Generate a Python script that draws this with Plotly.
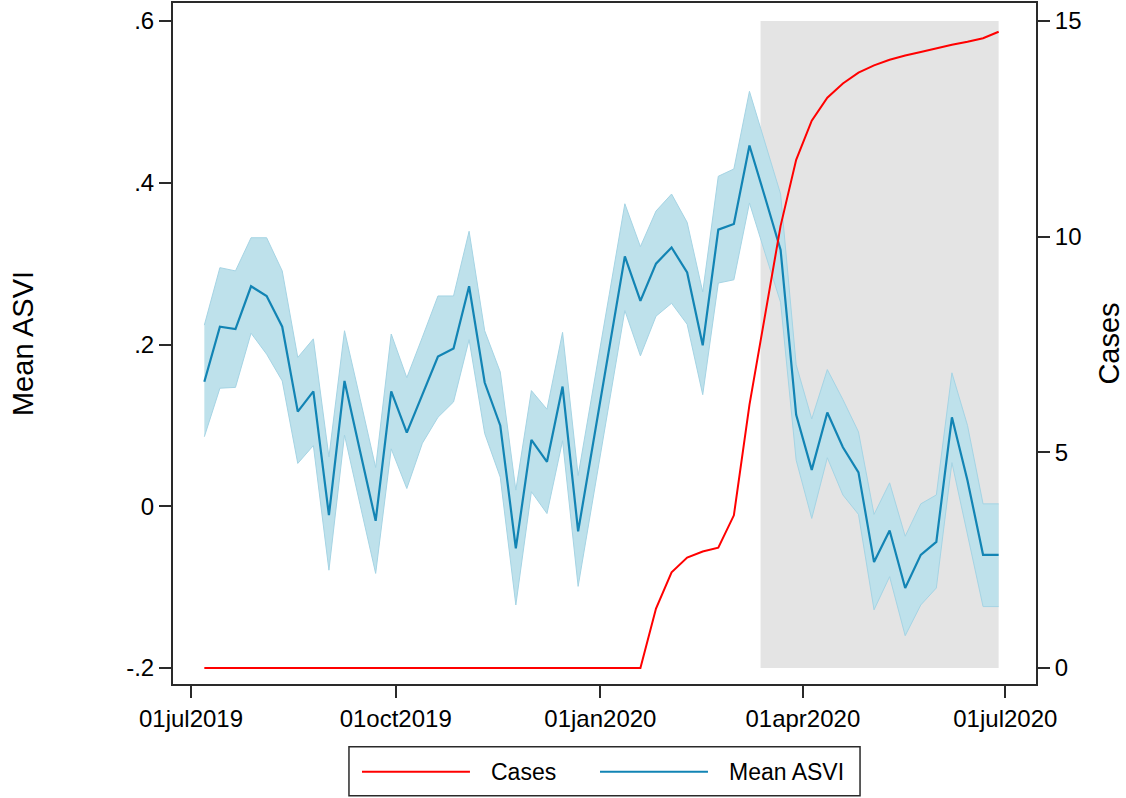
import plotly.graph_objects as go

# ---- data ----
weeks = [
    "2019-07-07", "2019-07-14", "2019-07-21", "2019-07-28", "2019-08-04", "2019-08-11",
    "2019-08-18", "2019-08-25", "2019-09-01", "2019-09-08", "2019-09-15", "2019-09-22",
    "2019-09-29", "2019-10-06", "2019-10-13", "2019-10-20", "2019-10-27", "2019-11-03",
    "2019-11-10", "2019-11-17", "2019-11-24", "2019-12-01", "2019-12-08", "2019-12-15",
    "2019-12-22", "2019-12-29", "2020-01-05", "2020-01-12", "2020-01-19", "2020-01-26",
    "2020-02-02", "2020-02-09", "2020-02-16", "2020-02-23", "2020-03-01", "2020-03-08",
    "2020-03-15", "2020-03-22", "2020-03-29", "2020-04-05", "2020-04-12", "2020-04-19",
    "2020-04-26", "2020-05-03", "2020-05-10", "2020-05-17", "2020-05-24", "2020-05-31",
    "2020-06-07", "2020-06-14", "2020-06-21", "2020-06-28",
]

mean_asvi = [
    0.154, 0.222, 0.219, 0.272, 0.260, 0.222, 0.117, 0.142, -0.011, 0.155,
    0.068, -0.018, 0.142, 0.091, 0.138, 0.185, 0.195, 0.272, 0.153, 0.100,
    -0.052, 0.082, 0.055, 0.148, -0.031, 0.082, 0.195, 0.309, 0.254, 0.300,
    0.320, 0.289, 0.199, 0.342, 0.349, 0.446, 0.382, 0.317, 0.113, 0.045,
    0.116, 0.073, 0.042, -0.069, -0.030, -0.101, -0.060, -0.044, 0.110, 0.032,
    -0.060, -0.060,
]

asvi_upper = [
    0.224, 0.295, 0.291, 0.332, 0.332, 0.291, 0.184, 0.207, 0.061, 0.217,
    0.133, 0.048, 0.213, 0.159, 0.209, 0.260, 0.260, 0.340, 0.217, 0.166,
    0.020, 0.143, 0.120, 0.215, 0.038, 0.152, 0.262, 0.374, 0.321, 0.365,
    0.386, 0.351, 0.265, 0.408, 0.417, 0.513, 0.448, 0.386, 0.175, 0.108,
    0.169, 0.132, 0.092, -0.010, 0.029, -0.037, 0.003, 0.014, 0.165, 0.100,
    0.003, 0.003,
]

asvi_lower = [
    0.086, 0.146, 0.147, 0.214, 0.188, 0.155, 0.053, 0.075, -0.079, 0.088,
    0.002, -0.083, 0.071, 0.022, 0.078, 0.110, 0.129, 0.206, 0.090, 0.036,
    -0.122, 0.018, -0.009, 0.081, -0.099, 0.016, 0.128, 0.242, 0.186, 0.235,
    0.251, 0.225, 0.138, 0.276, 0.280, 0.375, 0.313, 0.252, 0.057, -0.015,
    0.060, 0.014, -0.010, -0.128, -0.087, -0.160, -0.122, -0.101, 0.054, -0.035,
    -0.124, -0.124,
]

cases = [
    0, 0, 0, 0, 0, 0, 0, 0, 0, 0,
    0, 0, 0, 0, 0, 0, 0, 0, 0, 0,
    0, 0, 0, 0, 0, 0, 0, 0, 0, 1.38,
    2.22, 2.56, 2.70, 2.79, 3.54, 6.10, 8.20, 10.25, 11.78, 12.69,
    13.22, 13.55, 13.80, 13.97, 14.10, 14.20, 14.28, 14.37, 14.45, 14.52,
    14.60, 14.75,
]

shade_period = ["2020-03-13", "2020-06-28"]

x_tickvals = ["2019-07-01", "2019-10-01", "2020-01-01", "2020-04-01", "2020-07-01"]
x_ticktext = ["01jul2019", "01oct2019", "01jan2020", "01apr2020", "01jul2020"]
y_tickvals = [-0.2, 0, 0.2, 0.4, 0.6]
y_ticktext = ["-.2", "0", ".2", ".4", ".6"]
y2_tickvals = [0, 5, 10, 15]
y2_ticktext = ["0", "5", "10", "15"]

legend_labels = ["Cases", "Mean ASVI"]

# ---- styles ----
FONT = "Liberation Sans, Arial, Helvetica, sans-serif"
RED = "#ff0000"
BLUE = "#1284b4"
BAND = "rgb(190,225,235)"
BAND_EDGE = "rgb(165,212,228)"
AXIS = "#2a2a2a"

fig = go.Figure()

fig.add_trace(go.Scatter(
    x=weeks, y=asvi_upper, mode="lines",
    line=dict(color=BAND_EDGE, width=1), hoverinfo="skip", showlegend=False,
))
fig.add_trace(go.Scatter(
    x=weeks, y=asvi_lower, mode="lines", fill="tonexty", fillcolor=BAND,
    line=dict(color=BAND_EDGE, width=1), hoverinfo="skip", showlegend=False,
))
fig.add_trace(go.Scatter(
    x=weeks, y=mean_asvi, mode="lines", name=legend_labels[1],
    line=dict(color=BLUE, width=2.2), showlegend=False,
))
fig.add_trace(go.Scatter(
    x=weeks, y=cases, mode="lines", name=legend_labels[0], yaxis="y2",
    line=dict(color=RED, width=2), showlegend=False,
))

# shaded period
fig.add_shape(
    type="rect", xref="x", yref="y",
    x0=shade_period[0], x1=shade_period[1], y0=y_tickvals[0], y1=y_tickvals[-1],
    fillcolor="#e4e4e4", line=dict(width=0), layer="below",
)

# ---- legend drawn below the plot ----
fig.add_shape(type="rect", xref="paper", yref="paper",
              x0=0.2039, x1=0.7961, y0=-0.1640, y1=-0.0922,
              line=dict(color=AXIS, width=1.5), fillcolor="white")
fig.add_shape(type="line", xref="paper", yref="paper",
              x0=0.2190, x1=0.3441, y0=-0.1288, y1=-0.1288,
              line=dict(color=RED, width=2))
fig.add_shape(type="line", xref="paper", yref="paper",
              x0=0.4948, x1=0.6199, y0=-0.1288, y1=-0.1288,
              line=dict(color=BLUE, width=2))
fig.add_annotation(xref="paper", yref="paper", x=0.3662, y=-0.1288,
                   text=legend_labels[0], showarrow=False, xanchor="left", yanchor="middle",
                   font=dict(family=FONT, size=23, color="black"))
fig.add_annotation(xref="paper", yref="paper", x=0.6419, y=-0.1288,
                   text=legend_labels[1], showarrow=False, xanchor="left", yanchor="middle",
                   font=dict(family=FONT, size=23, color="black"))

tickfont = dict(family=FONT, size=24, color="black")

fig.update_layout(
    width=1126, height=798,
    margin=dict(l=173, r=90, t=1, b=114),
    plot_bgcolor="white", paper_bgcolor="white",
    showlegend=False,
    font=dict(family=FONT, color="black"),
    xaxis=dict(
        type="date",
        range=["2019-06-22 22:00", "2020-07-14 19:00"],
        tickmode="array", tickvals=x_tickvals, ticktext=x_ticktext,
        ticks="outside", ticklen=12, tickwidth=1.5, tickcolor=AXIS,
        showline=True, linecolor=AXIS, linewidth=2, mirror=True,
        showgrid=False, zeroline=False, tickfont=tickfont,
    ),
    yaxis=dict(
        range=[-0.2197, 0.6222],
        tickmode="array", tickvals=y_tickvals, ticktext=y_ticktext,
        ticks="outside", ticklen=12, tickwidth=1.5, tickcolor=AXIS,
        showline=True, linecolor=AXIS, linewidth=2,
        showgrid=False, zeroline=False, tickfont=tickfont,
        title=dict(text="Mean ASVI", font=dict(family=FONT, size=29, color="black"), standoff=84),
    ),
    yaxis2=dict(
        overlaying="y", side="right",
        range=[-0.370, 15.416],
        tickmode="array", tickvals=y2_tickvals, ticktext=y2_ticktext,
        ticks="outside", ticklen=12, tickwidth=1.5, tickcolor=AXIS,
        showline=True, linecolor=AXIS, linewidth=2,
        showgrid=False, zeroline=False, tickfont=tickfont,
        title=dict(text="Cases", font=dict(family=FONT, size=29, color="black"), standoff=18),
    ),
)

fig.write_html(
    "out.html",
    config={"displayModeBar": False},
    post_script="document.body.style.margin='0';document.body.style.overflow='hidden';",
)
